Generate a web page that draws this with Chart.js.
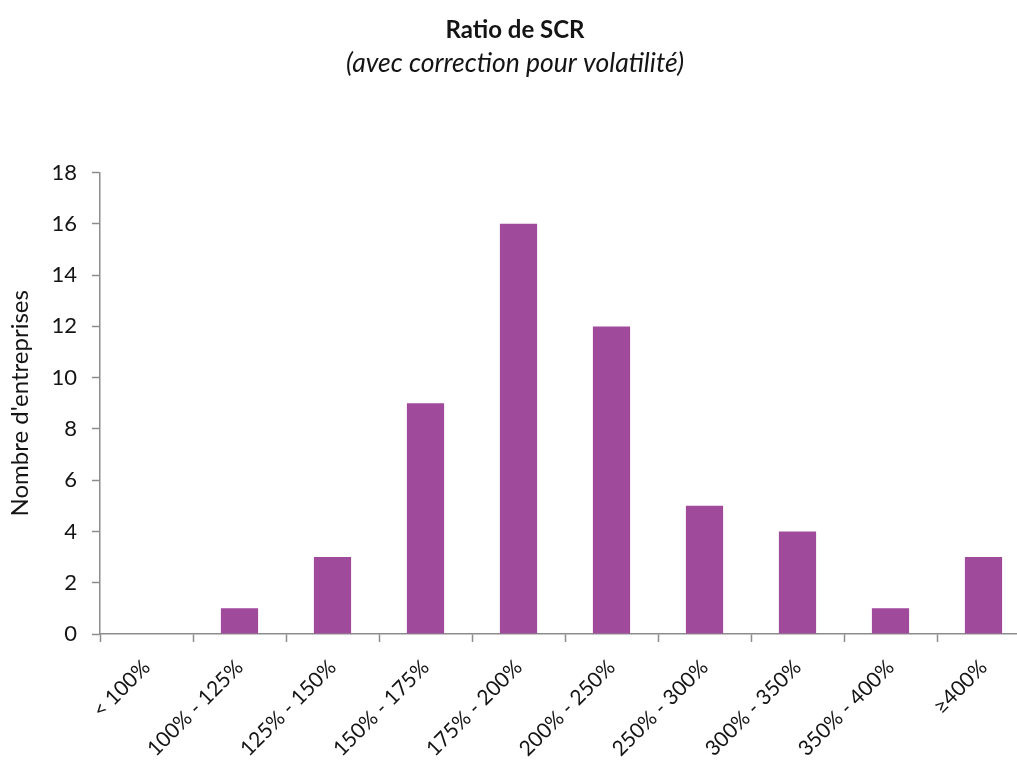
<!DOCTYPE html>
<html>
<head>
<meta charset="utf-8">
<script src="https://cdn.jsdelivr.net/npm/chart.js@4/dist/chart.umd.min.js"></script>
<style>
  html, body { margin: 0; padding: 0; background: #fff; overflow: hidden; }
  #wrap { width: 1040px; height: 765px; position: relative; }
</style>
</head>
<body>
<div id="wrap"><canvas id="c"></canvas></div>
<script>
// Distribution of SCR coverage ratios (number of undertakings per band)
const categories = ['< 100%', '100% - 125%', '125% - 150%', '150% - 175%', '175% - 200%',
                    '200% - 250%', '250% - 300%', '300% - 350%', '350% - 400%', '\u2265400%'];
const counts = [0, 1, 3, 9, 16, 12, 5, 4, 1, 3];
const yTicks = [0, 2, 4, 6, 8, 10, 12, 14, 16, 18];

const titleText = 'Ratio de SCR';
const subtitleText = '(avec correction pour volatilit\u00e9)';
const yAxisTitle = "Nombre d'entreprises";

const FONT = 'Lato, "Open Sans", sans-serif';
const AXIS = '#8c8c8c';
const TEXT = '#141414';

new Chart(document.getElementById('c'), {
  type: 'bar',
  data: {
    labels: categories,
    datasets: [{
      data: counts,
      backgroundColor: '#a04a9b',
      borderWidth: 0,
      barPercentage: 0.4,
      categoryPercentage: 1.0
    }]
  },
  options: {
    responsive: true,
    maintainAspectRatio: false,
    animation: false,
    layout: { padding: { left: 0, right: 10, top: 0, bottom: 0 } },
    plugins: {
      legend: { display: false },
      tooltip: { enabled: false },
      title: {
        display: true,
        text: titleText,
        color: TEXT,
        font: { family: FONT, size: 24, weight: 'bold' },
        padding: { top: 16, bottom: 0 }
      },
      subtitle: {
        display: true,
        text: subtitleText,
        color: TEXT,
        font: { family: FONT, size: 26.5, style: 'italic' },
        padding: { top: 3, bottom: 93 }
      }
    },
    scales: {
      x: {
        offset: true,
        grid: {
          display: true,
          offset: true,
          drawOnChartArea: false,
          drawTicks: true,
          tickLength: 8,
          tickColor: AXIS,
          tickWidth: 1.5
        },
        border: { display: true, color: AXIS, width: 1.5 },
        ticks: {
          color: TEXT,
          font: { family: FONT, size: 21 },
          minRotation: 45,
          maxRotation: 45,
          autoSkip: false,
          padding: 13
        },
        afterFit: (s) => { s.height = 131; }
      },
      y: {
        min: 0,
        max: 18,
        afterBuildTicks: (s) => { s.ticks = yTicks.map(v => ({ value: v })); },
        grid: {
          display: true,
          drawOnChartArea: false,
          drawTicks: true,
          tickLength: 8,
          tickColor: AXIS,
          tickWidth: 1.5
        },
        border: { display: true, color: AXIS, width: 1.5 },
        ticks: {
          color: TEXT,
          font: { family: FONT, size: 22 },
          padding: 15
        },
        title: {
          display: true,
          text: yAxisTitle,
          color: TEXT,
          font: { family: FONT, size: 24 },
          padding: { top: 6, bottom: 0 }
        },
        afterFit: (s) => { s.width = 100; }
      }
    }
  }
});
</script>
</body>
</html>
